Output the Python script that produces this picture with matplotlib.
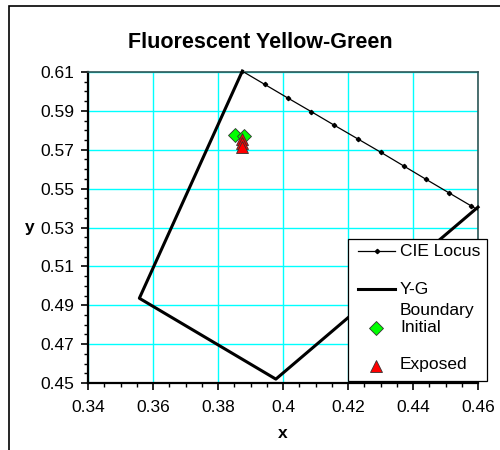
import matplotlib
matplotlib.use("Agg")
import matplotlib.pyplot as plt
from matplotlib.lines import Line2D
from matplotlib.patches import Rectangle
import numpy as np

plt.rcParams['font.family'] = ['Liberation Sans', 'DejaVu Sans']

# CIE 1931 spectral locus, 551-563 nm
cie_x = [0.3802, 0.3873, 0.3944, 0.4015, 0.4087, 0.4158, 0.4230, 0.4302, 0.4372, 0.4441, 0.4511, 0.4580, 0.4648]
cie_y = [0.6176, 0.6106, 0.6036, 0.5966, 0.5896, 0.5826, 0.5756, 0.5686, 0.5616, 0.5547, 0.5478, 0.5410, 0.5341]

# yellow-green boundary
yg_x = [0.3875, 0.3558, 0.3978, 0.4600]
yg_y = [0.6105, 0.4936, 0.4520, 0.5405]

# measured samples
initial_x = [0.3852, 0.3880]
initial_y = [0.5776, 0.5771]
exposed_x = [0.3873, 0.3873, 0.3873]
exposed_y = [0.5755, 0.5735, 0.5715]

W, H = 500, 450
fig = plt.figure(figsize=(W / 100, H / 100), dpi=100)
fig.patch.set_facecolor('white')

def px(x, y):
    # pixel (from top-left) -> figure fraction
    return x / W, 1 - y / H

# chart area frame
fig.patches.append(Rectangle(px(9, 470), 1.2, (470 - 6) / H, transform=fig.transFigure,
                             fill=False, edgecolor='black', linewidth=1.2))

l, t = px(88, 72)
r, b = px(478, 383)
ax = fig.add_axes([l, b, r - l, t - b])

ax.plot(cie_x, cie_y, color='black', linewidth=0.9, marker='D', markersize=2.2, zorder=3)
ax.plot(yg_x, yg_y, color='black', linewidth=2.2, zorder=4, clip_on=False)
ax.plot(initial_x, initial_y, linestyle='none', marker='D', markersize=7,
        markerfacecolor='#00ff00', markeredgecolor='#333333', markeredgewidth=0.6, zorder=5)
ax.plot(exposed_x, exposed_y, linestyle='none', marker='^', markersize=8,
        markerfacecolor='#ff0000', markeredgecolor='#333333', markeredgewidth=0.6, zorder=6)

ax.set_xlim(0.34, 0.46)
ax.set_ylim(0.45, 0.61)
ax.set_xticks(np.arange(0.34, 0.4601, 0.02))
ax.set_yticks(np.arange(0.45, 0.6101, 0.02))
ax.set_xticks(np.arange(0.34, 0.4601, 0.005), minor=True)
ax.set_yticks(np.arange(0.45, 0.6101, 0.005), minor=True)
ax.set_xticklabels(['0.34', '0.36', '0.38', '0.4', '0.42', '0.44', '0.46'])
ax.set_yticklabels(['0.45', '0.47', '0.49', '0.51', '0.53', '0.55', '0.57', '0.59', '0.61'])
ax.tick_params(which='major', direction='out', length=5, width=1.2, labelsize=12.5, color='black')
ax.tick_params(axis='x', which='major', pad=7)
ax.tick_params(axis='y', which='major', pad=5)
ax.tick_params(which='minor', direction='out', length=3, width=1, color='black')
ax.grid(True, which='major', color='#00ffff', linewidth=1)
ax.set_axisbelow(True)

for s in ['left', 'bottom']:
    ax.spines[s].set_color('black')
    ax.spines[s].set_linewidth(1.6)
for s in ['top', 'right']:
    ax.spines[s].set_color('#2f5555')
    ax.spines[s].set_linewidth(1.2)

ax.set_xlabel('x', fontsize=12.5, fontweight='bold', va='center')
ax.xaxis.set_label_coords(0.5, -(433 - 383) / 311)
ax.set_ylabel('y', fontsize=12.5, fontweight='bold', rotation=0, va='center', ha='center')
ax.yaxis.set_label_coords((30 - 88) / 390, 0.5)

fig.text(*px(260, 42), 'Fluorescent Yellow-Green', fontsize=15.5, fontweight='bold',
         ha='center', va='center')

# legend box drawn by hand to follow the original spacing
lx0, ly0 = px(348, 381)
lx1, ly1 = px(487, 239)
fig.patches.append(Rectangle((lx0, ly0), lx1 - lx0, ly1 - ly0, transform=fig.transFigure,
                             facecolor='white', edgecolor='black', linewidth=0.9, zorder=10))

def handle_line(y, lw, marker=None):
    (x0, yy), (x1, _) = px(358, y), px(395, y)
    fig.lines.append(Line2D([x0, x1], [yy, yy], transform=fig.transFigure, color='black',
                            linewidth=lw, zorder=11))
    if marker:
        fig.lines.append(Line2D([(x0 + x1) / 2], [yy], transform=fig.transFigure, color='black',
                                marker='D', markersize=2.2, linestyle='none', zorder=11))

def handle_marker(y, marker, ms, fc):
    xx, yy = px(376, y)
    fig.lines.append(Line2D([xx], [yy], transform=fig.transFigure, linestyle='none', marker=marker,
                            markersize=ms, markerfacecolor=fc, markeredgecolor='#333333',
                            markeredgewidth=0.6, zorder=11))

handle_line(251, 0.9, marker=True)
handle_line(289, 2.2)
handle_marker(328, 'D', 7, '#00ff00')
handle_marker(366, '^', 8, '#ff0000')

for y, s in [(251, 'CIE Locus'), (289, 'Y-G'), (310, 'Boundary'), (327, 'Initial'), (365, 'Exposed')]:
    fig.text(*px(400, y), s, fontsize=12.5, ha='left', va='center', zorder=12)

fig.savefig('out.png', dpi=100)
